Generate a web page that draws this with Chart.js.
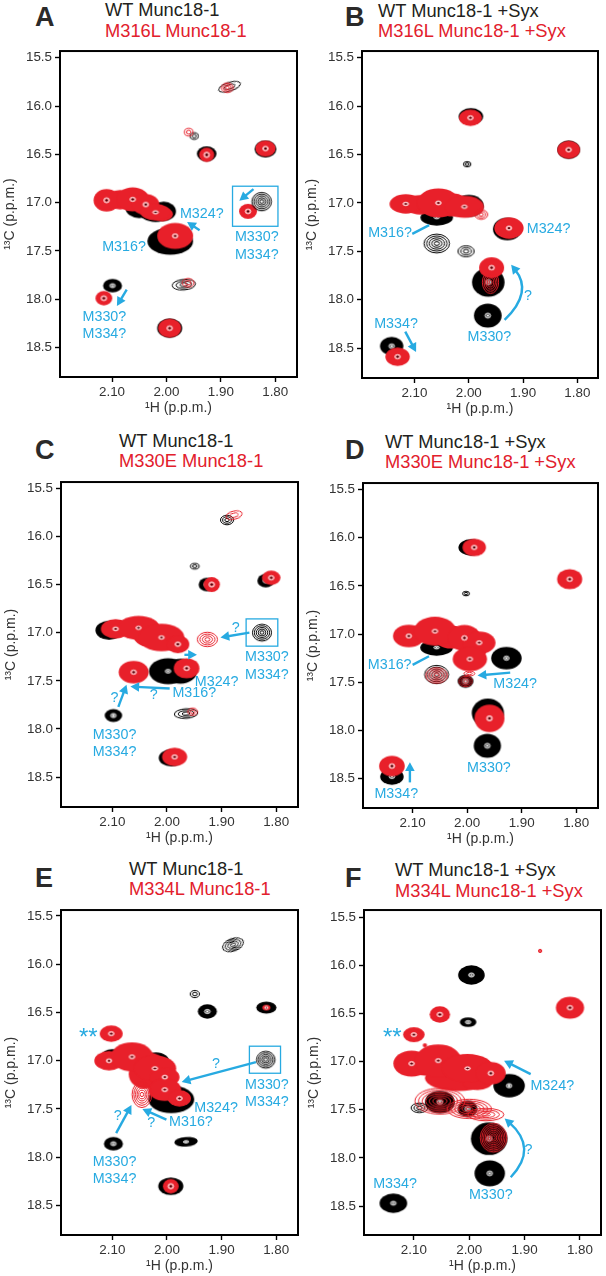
<!DOCTYPE html>
<html>
<head>
<meta charset="utf-8">
<title>Munc18-1 methyl spectra</title>
<script src="https://cdn.jsdelivr.net/npm/chart.js@4/dist/chart.umd.min.js"></script>
<style>
  html, body { margin: 0; padding: 0; background: #fff; }
  #page { position: relative; width: 606px; height: 1276px; overflow: hidden; font-family: "Liberation Sans", Arial, sans-serif; }
  canvas { position: absolute; }
  .letter, .line1, .line2 { position: absolute; white-space: nowrap; line-height: 24px; }
  .letter { font-size: 27px; font-weight: bold; color: #2b2a29; line-height: 30px; }
  .line1 { font-size: 18.3px; color: #231f20; }
  .line2 { font-size: 18.3px; color: #e2202c; }
</style>
</head>
<body>
<div id="page"></div>
<script>
const xTicks = [2.1, 2.0, 1.9, 1.8];
const yTicks = [15.5, 16.0, 16.5, 17.0, 17.5, 18.0, 18.5];
const blue = '#27aae1', red = '#e8202a', black = '#000000';

// peak rows: 1H ppm, 13C ppm, width in 1H ppm, width in 13C ppm, optional tilt
const aBlack = [[1.926,16.494,.036,.155],[1.818,16.445,.04,.175],[2.02,17.1,.06,.2],[2.005,17.09,.045,.2],[2.05,17.06,.05,.2],[1.993,17.4,.084,.28],[2.099,17.86,.035,.14],[1.994,18.3,.046,.2]];
const aBlackRings = [[1.825,16.99,.036,.19],[1.884,15.8,.042,.09,-18],[1.949,16.31,.015,.07],[1.968,17.85,.043,.11,-5]];
const aRedBlob = [[2.008,17.12,.04,.15],[2.085,16.97,.05,.2]];
const aRed = [[2.11,16.976,.048,.235],[2.062,16.966,.06,.25],[2.038,17.02,.05,.22],[2.02,17.1,.055,.17],[1.984,17.345,.066,.27],[2.115,17.99,.031,.15],[1.85,17.09,.033,.155],[1.926,16.505,.028,.15],[1.818,16.44,.037,.165],[1.994,18.3,.042,.195]];
const aRedRings = [[1.888,15.81,.022,.1],[1.959,16.27,.016,.08],[1.96,17.83,.022,.09]];
const aLabels = [['M324?',1.935,17.12],['M316?',2.078,17.46],['M330?',1.834,17.36],['M334?',1.834,17.54],['M330?',2.114,18.18],['M334?',2.114,18.36]];
const aArrows = [[1.939,17.285,1.962,17.2],[1.84,16.86,1.866,16.98],[2.073,17.9,2.091,18.07]];
const aBoxes = [[1.8785,16.83,1.795,17.245]];

const bBlack = [[1.996,16.105,.045,.17],[1.816,16.45,.042,.19],[2.059,17.15,.06,.17],[2.0,17.03,.055,.23],[1.929,17.27,.053,.235],[1.964,17.82,.06,.3],[1.965,18.165,.051,.25],[2.142,18.48,.043,.19]];
const bBlackRings = [[2.003,16.6,.014,.055],[2.059,17.42,.047,.195],[2.005,17.5,.03,.115]];
const bRedBlob = [[2.09,17.02,.06,.2],[2.03,17.02,.06,.24]];
const bRed = [[1.997,16.12,.042,.17],[1.816,16.45,.042,.185],[2.116,17.01,.06,.2],[2.056,17.0,.078,.3],[2.008,17.04,.072,.23],[1.926,17.26,.054,.22],[1.958,17.67,.046,.215],[2.131,18.59,.045,.19]];
const bRedRings = [[1.977,17.12,.024,.1],[1.96,17.82,.03,.23]];
const bLabels = [['M316?',2.145,17.31],['M324?',1.853,17.27],['M334?',2.134,18.25],['M330?',1.962,18.39],['?',1.891,17.96]];
const bArrows = [[2.117,18.33,2.097,18.54],[1.934,18.21,1.881,17.92,1.922,17.64]];
const bLines = [[2.104,17.32,2.073,17.23]];

const cBlack = [[1.927,16.5,.03,.14],[1.819,16.46,.031,.14],[2.106,16.975,.05,.195],[1.998,17.4,.07,.27],[1.975,17.4,.06,.26],[2.098,17.86,.032,.135],[1.992,18.3,.046,.175]];
const cBlackRings = [[1.89,15.83,.024,.1],[1.949,16.31,.016,.06],[1.826,17.0,.035,.175],[1.965,17.84,.043,.1,-4]];
const cRedBlob = [[2.035,17.02,.054,.25],[1.99,17.1,.05,.16]];
const cRed = [[1.918,16.5,.03,.155],[1.809,16.43,.034,.148],[2.094,16.96,.054,.2],[2.052,16.95,.078,.25],[2.01,17.05,.084,.285],[1.98,17.12,.042,.185],[1.964,17.37,.047,.21],[2.061,17.41,.055,.235],[1.986,18.29,.046,.19]];
const cRedRings = [[1.877,15.78,.03,.085,-14],[1.926,17.07,.037,.15],[1.953,17.82,.018,.075]];
const cLabels = [['?',1.874,16.95],['M330?',1.817,17.25],['M334?',1.817,17.44],['M324?',1.909,17.51],['M316?',1.95,17.63],['?',2.024,17.65],['?',2.096,17.68],['M330?',2.096,18.06],['M334?',2.096,18.24]];
const cArrows = [[1.849,17.0,1.902,17.05],[1.968,17.23,1.945,17.23],[1.995,17.58,2.067,17.56],[2.089,17.77,2.074,17.54]];
const cBoxes = [[1.855,16.857,1.797,17.14]];

const dBlack = [[1.993,16.1,.046,.17],[2.056,17.14,.06,.17],[1.928,17.25,.056,.235],[2.003,17.49,.029,.135],[1.962,17.82,.059,.3],[1.963,18.16,.05,.25],[2.138,18.48,.043,.17]];
const dBlackRings = [[2.002,16.58,.013,.047],[2.056,17.42,.044,.19]];
const dRedBlob = [[2.03,17.03,.06,.24],[1.99,17.16,.05,.25]];
const dRed = [[1.987,16.1,.043,.18],[1.812,16.43,.046,.21],[2.107,17.02,.058,.235],[2.059,16.97,.078,.3],[2.005,17.04,.06,.27],[1.978,17.09,.06,.235],[1.995,17.26,.063,.25],[1.959,17.875,.055,.285],[2.138,18.37,.047,.215]];
const dRedRings = [[2.056,17.43,.04,.16],[2.003,17.49,.024,.11],[1.996,17.41,.02,.05]];
const dLabels = [['M316?',2.142,17.32],['M324?',1.912,17.52],['M330?',1.96,18.39],['M334?',2.13,18.66]];
const dArrows = [[1.921,17.4,1.981,17.43],[2.105,18.54,2.105,18.33]];
const dLines = [[2.1,17.32,2.07,17.23]];

const eBlack = [[1.926,16.49,.035,.15],[1.818,16.45,.037,.125],[2.02,17.02,.05,.21],[2.1,16.95,.04,.14],[1.992,17.4,.084,.285],[2.098,17.86,.035,.14],[1.965,17.84,.043,.1,-4],[1.993,18.3,.046,.18]];
const eBlackRings = [[1.879,15.8,.04,.13,-20],[1.949,16.31,.017,.075],[1.819,16.99,.034,.175]];
const eRedBlob = [[2.04,17.14,.06,.3],[2.04,17.02,.07,.22]];
const eRed = [[2.102,16.72,.042,.17],[1.818,16.45,.015,.055],[2.106,17.0,.054,.2],[2.064,16.96,.078,.3],[2.022,17.08,.078,.27],[2.004,17.17,.054,.2],[2.004,17.3,.06,.235],[1.977,17.39,.042,.17],[1.993,18.3,.029,.15]];
const eRedRings = [[2.046,17.35,.036,.27]];
const eLabels = [['?',1.91,17.03],['M330?',1.817,17.25],['M334?',1.817,17.43],['M324?',1.91,17.49],['M316?',1.956,17.64],['?',2.029,17.65],['?',2.09,17.57],['M330?',2.096,18.05],['M334?',2.096,18.23]];
const eArrows = [[1.837,17.015,1.973,17.22],[2.001,17.61,2.045,17.5],[2.093,17.75,2.065,17.46]];
const eBoxes = [[1.849,16.85,1.792,17.13]];
const eStars = [2.144,16.73];

const fBlack = [[1.996,16.1,.048,.2],[2.002,16.59,.03,.1],[1.928,17.25,.057,.245],[2.053,17.42,.054,.235],[2.003,17.49,.036,.17],[1.964,17.8,.066,.34],[1.963,18.16,.055,.27],[2.137,18.47,.05,.2]];
const fBlackRings = [[2.09,17.48,.03,.1]];
const fRedBlob = [[2.02,17.17,.12,.27],[1.985,17.21,.054,.17],[2.08,17.02,.05,.25],[2.08,16.83,.008,.04]];
const fRed = [[1.818,16.44,.051,.23],[2.053,16.51,.037,.17],[2.1,16.72,.039,.155],[2.104,17.02,.066,.27],[2.056,16.99,.084,.34],[2.003,17.07,.095,.3],[1.961,17.12,.054,.235]];
const fRedRings = [[1.872,15.85,.006,.035],[2.053,17.41,.09,.27],[2.0,17.49,.08,.2],[1.97,17.55,.065,.13],[1.956,17.79,.048,.3]];
const fLabels = [['M324?',1.85,17.25],['?',1.893,17.92],['M330?',1.961,18.39],['M334?',2.134,18.27]];
const fArrows = [[1.889,17.13,1.937,16.99],[1.925,18.2,1.875,17.9,1.936,17.59]];
const fStars = [2.139,16.72];

// stacked drawing from the bottom up, chart.js draws dataset 0 last
function spriteFor(w, h, kind, color) {
  const pad = 3;
  const c = document.createElement('canvas');
  c.width = Math.ceil(w + pad * 2);
  c.height = Math.ceil(h + pad * 2);
  const g = c.getContext('2d');
  const cx = c.width / 2, cy = c.height / 2;
  const oval = (f) => { g.beginPath(); g.ellipse(cx, cy, Math.max(w * f / 2, .5), Math.max(h * f / 2, .5), 0, 0, Math.PI * 2); };
  if (kind === 'fill') {
    oval(1); g.fillStyle = color; g.fill();
  } else if (kind === 'rings') {
    g.strokeStyle = color; g.lineWidth = 1;
    const n = Math.max(2, Math.min(9, Math.round(Math.min(w, h) / 3.5)));
    for (let i = 0; i < n; i++) { oval(1 - i / n); g.stroke(); }
  } else {
    // the tight contours at the top of a peak
    const k = Math.min(1, 14 / w);
    g.strokeStyle = '#fff'; g.lineWidth = .7;
    [.42, .3].forEach(f => { oval(f * k); g.stroke(); });
    oval(.17 * k);
    g.fillStyle = color === black ? '#fff' : '#2a0a0c';
    g.fill();
  }
  return c;
}

function peakSet(rows, kind, color) {
  return {
    data: rows.map(r => ({ x: r[0], y: r[1], dH: r[2], dC: r[3], tilt: r[4] || 0 })),
    showLine: false,
    pointRotation: ctx => (ctx.raw ? ctx.raw.tilt : 0),
    pointStyle: ctx => {
      const s = ctx.chart.scales, p = ctx.raw;
      if (!p || !s.x) return 'circle';
      const w = Math.abs(s.x.getPixelForValue(p.x + p.dH / 2) - s.x.getPixelForValue(p.x - p.dH / 2));
      const h = Math.abs(s.y.getPixelForValue(p.y + p.dC / 2) - s.y.getPixelForValue(p.y - p.dC / 2));
      return spriteFor(w, h, kind, color);
    }
  };
}

function notesPlugin(p) {
  return {
    id: 'notes',
    afterDatasetsDraw(chart) {
      const g = chart.ctx, sx = chart.scales.x, sy = chart.scales.y;
      const X = v => sx.getPixelForValue(v), Y = v => sy.getPixelForValue(v);
      const a = chart.chartArea;
      g.save();
      g.strokeStyle = blue;
      g.fillStyle = blue;
      (p.boxes || []).forEach(b => {
        g.lineWidth = 1.3;
        g.strokeRect(X(b[0]), Y(b[1]), X(b[2]) - X(b[0]), Y(b[3]) - Y(b[1]));
      });
      g.lineWidth = 2.4;
      (p.lines || []).forEach(l => {
        g.beginPath(); g.moveTo(X(l[0]), Y(l[1])); g.lineTo(X(l[2]), Y(l[3])); g.stroke();
      });
      (p.arrows || []).forEach(r => {
        const curved = r.length === 6;
        const ex = X(r[r.length - 2]), ey = Y(r[r.length - 1]);
        const fx = X(r[r.length - 4]), fy = Y(r[r.length - 3]);
        const ang = Math.atan2(ey - fy, ex - fx);
        const sh = 6;
        g.beginPath();
        g.moveTo(X(r[0]), Y(r[1]));
        if (curved) g.quadraticCurveTo(fx, fy, ex - sh * Math.cos(ang), ey - sh * Math.sin(ang));
        else g.lineTo(ex - sh * Math.cos(ang), ey - sh * Math.sin(ang));
        g.stroke();
        g.beginPath();
        g.moveTo(ex, ey);
        g.lineTo(ex - 10 * Math.cos(ang - .5), ey - 10 * Math.sin(ang - .5));
        g.lineTo(ex - 10 * Math.cos(ang + .5), ey - 10 * Math.sin(ang + .5));
        g.closePath();
        g.fill();
      });
      g.textAlign = 'center';
      g.textBaseline = 'middle';
      g.font = '14.3px "Liberation Sans", Arial, sans-serif';
      p.labels.forEach(l => g.fillText(l[0], X(l[1]), Y(l[2])));
      if (p.stars) {
        g.font = '24px "Liberation Sans", Arial, sans-serif';
        g.fillText('**', X(p.stars[0]), Y(p.stars[1]) + 4);
      }
      g.restore();
      // frame of the spectrum
      g.save();
      g.strokeStyle = '#000';
      g.lineWidth = 2;
      g.strokeRect(a.left, a.top, a.right - a.left, a.bottom - a.top);
      g.restore();
    }
  };
}

const panels = [
  { letter: 'A', lx: 35, ly: 17, tx: 105, t1: 'WT Munc18-1', t1y: 10, t2: 'M316L Munc18-1', t2y: 31, box: [59.5, 43, 300, 377], xr: [2.1956, 1.76], yr: [15.43, 18.806],
    black: aBlack, blackRings: aBlackRings, redBlob: aRedBlob, red: aRed, redRings: aRedRings, labels: aLabels, arrows: aArrows, boxes: aBoxes },
  { letter: 'B', lx: 345, ly: 17, tx: 378, t1: 'WT Munc18-1 +Syx', t1y: 11, t2: 'M316L Munc18-1 +Syx', t2y: 31, box: [362, 43, 602, 378], xr: [2.1966, 1.762], yr: [15.43, 18.81],
    black: bBlack, blackRings: bBlackRings, redBlob: bRedBlob, red: bRed, redRings: bRedRings, labels: bLabels, arrows: bArrows, lines: bLines },
  { letter: 'C', lx: 35, ly: 450, tx: 119, t1: 'WT Munc18-1', t1y: 441, t2: 'M330E Munc18-1', t2y: 461, box: [61, 473.7, 302, 807], xr: [2.194, 1.76], yr: [15.436, 18.81],
    black: cBlack, blackRings: cBlackRings, redBlob: cRedBlob, red: cRed, redRings: cRedRings, labels: cLabels, arrows: cArrows, boxes: cBoxes },
  { letter: 'D', lx: 345, ly: 450, tx: 385, t1: 'WT Munc18-1 +Syx', t1y: 442, t2: 'M330E Munc18-1 +Syx', t2y: 462, box: [363, 475, 602, 808], xr: [2.191, 1.76], yr: [15.432, 18.806],
    black: dBlack, blackRings: dBlackRings, redBlob: dRedBlob, red: dRed, redRings: dRedRings, labels: dLabels, arrows: dArrows, lines: dLines },
  { letter: 'E', lx: 35, ly: 878, tx: 129, t1: 'WT Munc18-1', t1y: 869, t2: 'M334L Munc18-1', t2y: 889, box: [61, 901.7, 302, 1234.7], xr: [2.194, 1.76], yr: [15.44, 18.805],
    black: eBlack, blackRings: eBlackRings, redBlob: eRedBlob, red: eRed, redRings: eRedRings, labels: eLabels, arrows: eArrows, boxes: eBoxes, stars: eStars },
  { letter: 'F', lx: 345, ly: 878, tx: 395, t1: 'WT Munc18-1 +Syx', t1y: 870, t2: 'M334L Munc18-1 +Syx', t2y: 891, box: [364, 902, 605, 1235], xr: [2.19, 1.762], yr: [15.426, 18.8],
    black: fBlack, blackRings: fBlackRings, redBlob: fRedBlob, red: fRed, redRings: fRedRings, labels: fLabels, arrows: fArrows, stars: fStars }
];

const page = document.getElementById('page');
const tickFont = { family: '"Liberation Sans", Arial, sans-serif', size: 13.4 };
const titleFont = { family: '"Liberation Sans", Arial, sans-serif', size: 14 };

function addText(cls, text, left, centerY, h) {
  const d = document.createElement('div');
  d.className = cls;
  d.textContent = text;
  d.style.left = left + 'px';
  d.style.top = (centerY - h / 2) + 'px';
  page.appendChild(d);
}

panels.forEach(p => {
  addText('letter', p.letter, p.lx, p.ly, 30);
  addText('line1', p.t1, p.tx, p.t1y, 24);
  addText('line2', p.t2, p.tx, p.t2y, 24);

  const [l, t, r, b] = p.box;
  const gutter = 58, foot = 40, top = 3, right = 1;
  const canvas = document.createElement('canvas');
  canvas.width = Math.round(r - l + gutter + right);
  canvas.height = Math.round(b - t + foot + top);
  canvas.style.left = (l - gutter) + 'px';
  canvas.style.top = (t - top) + 'px';
  page.appendChild(canvas);

  const axisBits = {
    border: { display: false },
    grid: { drawOnChartArea: false, drawTicks: true, tickLength: 5, color: '#000', tickWidth: 1.4, tickColor: '#000' }
  };

  new Chart(canvas, {
    type: 'scatter',
    data: {
      datasets: [
        peakSet(p.redRings, 'rings', red),
        peakSet(p.blackRings, 'rings', black),
        peakSet(p.red, 'centre', red),
        peakSet(p.red, 'fill', red),
        peakSet(p.redBlob, 'fill', red),
        peakSet(p.black, 'centre', black),
        peakSet(p.black, 'fill', black)
      ]
    },
    options: {
      responsive: false,
      animation: false,
      events: [],
      layout: { padding: { top: top, right: right, left: 0, bottom: 0 } },
      plugins: { legend: { display: false }, tooltip: { enabled: false } },
      scales: {
        x: {
          type: 'linear', reverse: true, min: p.xr[1], max: p.xr[0],
          ...axisBits,
          afterFit: s => { s.height = foot; },
          afterBuildTicks: s => { s.ticks = xTicks.map(v => ({ value: v })); },
          ticks: { color: '#333', font: tickFont, padding: 2, maxRotation: 0, callback: v => v.toFixed(2) },
          title: { display: true, text: '¹H (p.p.m.)', color: '#333', font: titleFont, padding: { top: 0, bottom: 0 } }
        },
        y: {
          type: 'linear', reverse: true, min: p.yr[0], max: p.yr[1],
          ...axisBits,
          afterFit: s => { s.width = gutter; },
          afterBuildTicks: s => { s.ticks = yTicks.map(v => ({ value: v })); },
          ticks: { color: '#333', font: tickFont, padding: 3, callback: v => v.toFixed(1) },
          title: { display: true, text: '¹³C (p.p.m.)', color: '#333', font: titleFont, padding: { top: 0, bottom: 0 } }
        }
      }
    },
    plugins: [notesPlugin(p)]
  });
});
</script>
</body>
</html>
